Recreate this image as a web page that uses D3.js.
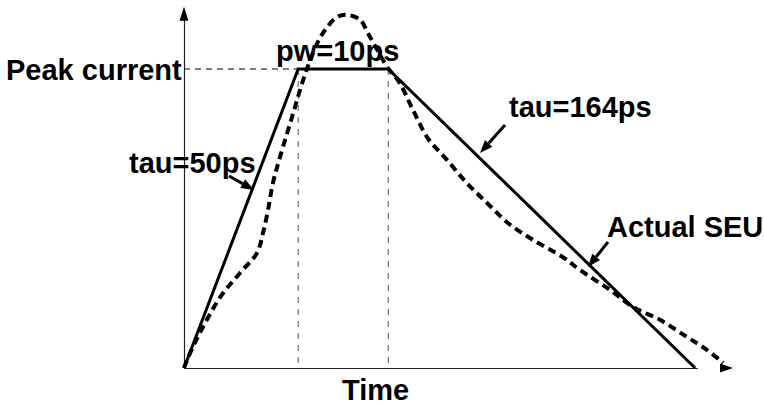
<!DOCTYPE html>
<html>
<head>
<meta charset="utf-8">
<script src="https://cdn.jsdelivr.net/npm/d3@7"></script>
<style>
  html, body { margin: 0; padding: 0; background: #fff; }
  svg { display: block; }
  text { font-family: "Liberation Sans", Arial, sans-serif; font-weight: bold; font-size: 29px; fill: #000; }
</style>
</head>
<body>
<svg id="chart" width="764" height="405"></svg>
<script>
// Idealised trapezoidal pulse (time in arbitrary units, current normalised to peak)
const pulseTimes  = [0, 2.08, 3.72, 9.31];
const pulseLevels = [0, 1, 1, 0];

// Measured SEU current waveform
const seuTimes  = [0, 0.16, 0.66, 1.02, 1.33, 1.44, 1.53, 1.62, 1.75, 1.99, 2.17, 2.35, 2.53, 2.79, 2.97,
                   3.21, 3.35, 3.52, 3.70, 3.93, 4.17, 4.44, 4.79, 5.15, 5.52, 5.90, 6.36, 6.90, 7.21,
                   7.76, 8.18, 8.67, 9.16, 9.53, 9.82];
const seuLevels = [0, 0.07, 0.237, 0.318, 0.385, 0.452, 0.528, 0.619, 0.706, 0.853, 0.963, 1.054, 1.12, 1.174, 1.181,
                   1.164, 1.12, 1.064, 1.007, 0.953, 0.863, 0.769, 0.696, 0.619, 0.552, 0.485, 0.428, 0.371, 0.328,
                   0.261, 0.204, 0.161, 0.104, 0.06, 0.017];

// Text labels
const axisLabels = { y: "Peak current", x: "Time" };
const paramLabels = ["tau=50ps", "pw=10ps", "tau=164ps", "Actual SEU"];

const svg = d3.select("#chart");

const x = d3.scaleLinear().domain([0, 10]).range([184, 733]);
const y = d3.scaleLinear().domain([0, 1]).range([368, 69]);

// Axes without ticks
const xAxisEnd = 9.35;
svg.append("g")
  .attr("transform", `translate(0,${y(0)})`)
  .call(d3.axisBottom(d3.scaleLinear().domain([0, xAxisEnd]).range([x(0), x(xAxisEnd)]))
        .tickValues([]).tickSizeOuter(0))
  .select(".domain").attr("stroke", "#222").attr("stroke-width", 1.2);

svg.append("g")
  .attr("transform", `translate(${x(0)},0)`)
  .call(d3.axisLeft(d3.scaleLinear().domain([0, 1.2]).range([y(0), y(1.18)]))
        .tickValues([]).tickSizeOuter(0))
  .select(".domain").attr("stroke", "#222").attr("stroke-width", 1.2);

// Axis arrowheads
const yTop = y(1.208);
svg.append("path")
  .attr("d", `M${x(0)},${yTop} L${x(0) - 4.5},${yTop + 14} L${x(0) + 4.5},${yTop + 14} Z`)
  .attr("fill", "#000");
const xEnd = x(10);
svg.append("path")
  .attr("d", `M${xEnd},${y(0)} L${xEnd - 13},${y(0) - 4.5} L${xEnd - 13},${y(0) + 4.5} Z`)
  .attr("fill", "#000");

// Guide lines: peak level and pulse-width edges
svg.append("line")
  .attr("x1", x(0)).attr("x2", x(pulseTimes[1]))
  .attr("y1", y(1)).attr("y2", y(1))
  .attr("stroke", "#000").attr("stroke-width", 1)
  .attr("stroke-dasharray", "6,5");

[pulseTimes[1], pulseTimes[2]].forEach(t => {
  svg.append("line")
    .attr("x1", x(t)).attr("x2", x(t))
    .attr("y1", y(1)).attr("y2", y(0))
    .attr("stroke", "#555").attr("stroke-width", 1)
    .attr("stroke-dasharray", "6,6");
});

// Trapezoidal pulse
const pulse = pulseTimes.map((t, i) => [t, pulseLevels[i]]);
svg.append("path")
  .datum(pulse)
  .attr("d", d3.line().x(d => x(d[0])).y(d => y(d[1])))
  .attr("fill", "none")
  .attr("stroke", "#000")
  .attr("stroke-width", 3)
  .attr("stroke-linejoin", "miter");

// Actual SEU waveform
const seu = seuTimes.map((t, i) => [t, seuLevels[i]]);
svg.append("path")
  .datum(seu)
  .attr("d", d3.line().x(d => x(d[0])).y(d => y(d[1])).curve(d3.curveCatmullRom.alpha(0.5)))
  .attr("fill", "none")
  .attr("stroke", "#000")
  .attr("stroke-width", 4)
  .attr("stroke-dasharray", "8,5");

// Labels
svg.append("text").attr("x", 6).attr("y", 80).text(axisLabels.y);
svg.append("text").attr("x", 342).attr("y", 400).text(axisLabels.x);

const labelPos = [[129, 173], [276, 61], [509, 117], [607, 237]];
paramLabels.forEach((s, i) => {
  svg.append("text").attr("x", labelPos[i][0]).attr("y", labelPos[i][1]).text(s);
});

// Pointer arrows from labels to curves
function pointer(x1, y1, x2, y2) {
  const ang = Math.atan2(y2 - y1, x2 - x1);
  const len = 13, hw = 5;
  const bx = x2 - len * Math.cos(ang), by = y2 - len * Math.sin(ang);
  svg.append("line")
    .attr("x1", x1).attr("y1", y1).attr("x2", bx).attr("y2", by)
    .attr("stroke", "#000").attr("stroke-width", 3);
  const px = -Math.sin(ang) * hw, py = Math.cos(ang) * hw;
  svg.append("path")
    .attr("d", `M${x2},${y2} L${bx + px},${by + py} L${bx - px},${by - py} Z`)
    .attr("fill", "#000");
}
pointer(229, 176, 254, 190);
pointer(505, 125, 480, 153);
pointer(608, 242, 588, 267);
</script>
</body>
</html>
